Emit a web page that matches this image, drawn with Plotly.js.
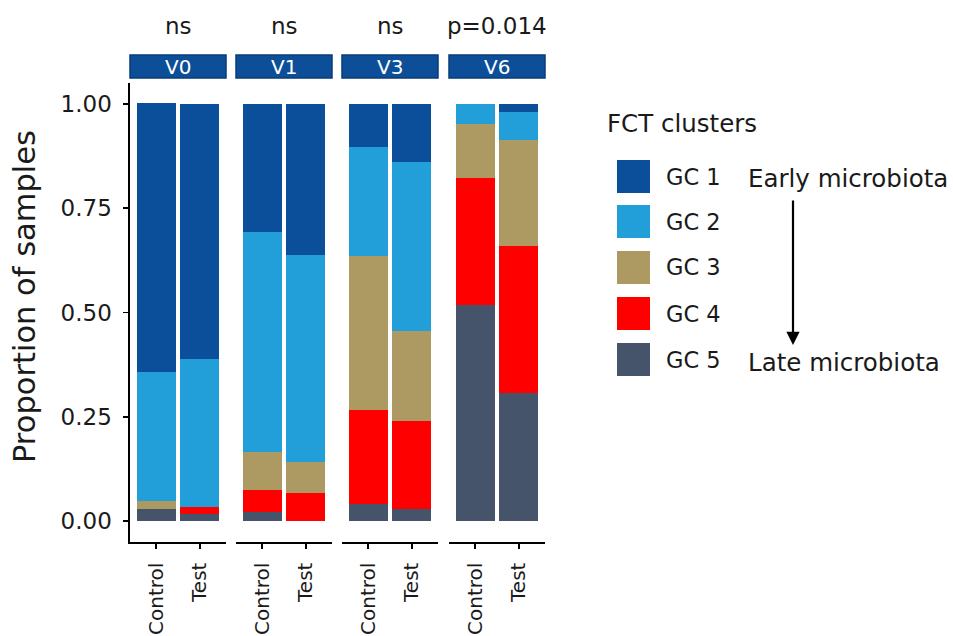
<!DOCTYPE html>
<html>
<head>
<meta charset="utf-8">
<script src="https://cdn.plot.ly/plotly-3.0.1.min.js"></script>
<style>html,body{margin:0;padding:0;background:#fff;}#chart{width:953px;height:636px;}</style>
</head>
<body>
<div id="chart"></div>
<script>
// ---- data ----
const visits = ["V0", "V1", "V3", "V6"];
const groups = ["Control", "Test"];
const pLabels = ["ns", "ns", "ns", "p=0.014"];
const clusters = ["GC 1", "GC 2", "GC 3", "GC 4", "GC 5"];
const clusterColors = ["#0B4F9B", "#229ED8", "#AD9A62", "#FF0000", "#45546B"];
// values ordered: V0 Control, V0 Test, V1 Control, V1 Test, V3 Control, V3 Test, V6 Control, V6 Test
const gc1 = [0.643, 0.612, 0.308, 0.363, 0.104, 0.139, 0.000, 0.019];
const gc2 = [0.310, 0.353, 0.527, 0.496, 0.261, 0.405, 0.048, 0.067];
const gc3 = [0.019, 0.000, 0.091, 0.074, 0.369, 0.216, 0.129, 0.254];
const gc4 = [0.000, 0.017, 0.053, 0.067, 0.225, 0.211, 0.305, 0.354];
const gc5 = [0.029, 0.018, 0.021, 0.000, 0.041, 0.029, 0.518, 0.306];
const legendTitle = "FCT clusters";
const earlyLabel = "Early microbiota";
const lateLabel = "Late microbiota";
const yTitle = "Proportion of samples";
const yTicks = [0, 0.25, 0.5, 0.75, 1];
const yTickText = ["0.00", "0.25", "0.50", "0.75", "1.00"];

// ---- layout helpers ----
const W = 953, H = 636;
const px = v => v / W;
const py = v => 1 - v / H;
const FONT = "DejaVu Sans";
const panelX = [[130, 226], [236, 332], [342, 438], [449, 545]];
const panelY = [83, 542];

const series = [gc1, gc2, gc3, gc4, gc5];
const traces = [];
// stack bottom-up: GC5 first
for (let p = 0; p < visits.length; p++) {
  for (let c = clusters.length - 1; c >= 0; c--) {
    traces.push({
      type: "bar",
      x: groups,
      y: [series[c][2 * p], series[c][2 * p + 1]],
      name: clusters[c],
      marker: {color: clusterColors[c], line: {width: 0}},
      xaxis: p === 0 ? "x" : "x" + (p + 1),
      yaxis: p === 0 ? "y" : "y" + (p + 1),
      showlegend: false,
      hoverinfo: "skip"
    });
  }
}

const layout = {
  width: W, height: H,
  margin: {l: 0, r: 0, t: 0, b: 0},
  paper_bgcolor: "#ffffff",
  plot_bgcolor: "rgba(0,0,0,0)",
  barmode: "stack",
  bargap: 0.1,
  showlegend: false,
  font: {family: FONT, color: "#1a1a1a"},
  shapes: [],
  annotations: []
};

for (let p = 0; p < visits.length; p++) {
  const xk = p === 0 ? "xaxis" : "xaxis" + (p + 1);
  const yk = p === 0 ? "yaxis" : "yaxis" + (p + 1);
  layout[xk] = {
    domain: [px(panelX[p][0]), px(panelX[p][1])],
    anchor: p === 0 ? "y" : "y" + (p + 1),
    type: "category",
    categoryorder: "array",
    categoryarray: groups,
    range: [-0.6, 1.6],
    showline: true, linecolor: "#000", linewidth: 1.6,
    ticks: "outside", ticklen: 5, tickwidth: 1.6, tickcolor: "#000",
    tickangle: -90,
    tickfont: {family: FONT, size: 20, color: "#1a1a1a"},
    ticklabelstandoff: 6,
    showgrid: false, zeroline: false, fixedrange: true
  };
  layout[yk] = {
    domain: [py(panelY[1]), py(panelY[0])],
    anchor: p === 0 ? "x" : "x" + (p + 1),
    range: [-0.05, 1.05],
    showgrid: false, zeroline: false, fixedrange: true,
    showline: p === 0, linecolor: "#000", linewidth: 1.6,
    ticks: p === 0 ? "outside" : "", ticklen: 5, tickwidth: 1.6, tickcolor: "#000",
    showticklabels: p === 0,
    tickmode: "array", tickvals: yTicks, ticktext: yTickText,
    tickfont: {family: FONT, size: 23, color: "#1a1a1a"},
    ticklabelstandoff: 7
  };
  // strip
  layout.shapes.push({
    type: "rect", xref: "paper", yref: "paper",
    x0: px(panelX[p][0]), x1: px(panelX[p][1]), y0: py(78), y1: py(55),
    fillcolor: "#0C4F98", line: {color: "#083C78", width: 1.5}
  });
  layout.annotations.push({
    xref: "paper", yref: "paper",
    x: px((panelX[p][0] + panelX[p][1]) / 2), y: py(67),
    text: visits[p], showarrow: false,
    font: {family: FONT, size: 20, color: "#ffffff"},
    xanchor: "center", yanchor: "middle"
  });
  layout.annotations.push({
    xref: "paper", yref: "paper",
    x: px((panelX[p][0] + panelX[p][1]) / 2), y: py(26),
    text: pLabels[p], showarrow: false,
    font: {family: FONT, size: 23, color: "#1a1a1a"},
    xanchor: "center", yanchor: "middle"
  });
}

// y title
layout.annotations.push({
  xref: "paper", yref: "paper", x: px(24), y: py(297),
  text: yTitle, textangle: -90, showarrow: false,
  font: {family: FONT, size: 30.5, color: "#1a1a1a"},
  xanchor: "center", yanchor: "middle"
});

// legend
layout.annotations.push({
  xref: "paper", yref: "paper", x: px(605), y: py(123),
  text: legendTitle, showarrow: false,
  font: {family: FONT, size: 24.5, color: "#1a1a1a"},
  xanchor: "left", yanchor: "middle"
});
const keyTop = [160, 205, 251, 297, 343];
for (let c = 0; c < clusters.length; c++) {
  layout.shapes.push({
    type: "rect", xref: "paper", yref: "paper",
    x0: px(617), x1: px(650), y0: py(keyTop[c] + 33), y1: py(keyTop[c]),
    fillcolor: clusterColors[c], line: {width: 0}
  });
  layout.annotations.push({
    xref: "paper", yref: "paper", x: px(664), y: py(keyTop[c] + 16.5),
    text: clusters[c], showarrow: false,
    font: {family: FONT, size: 22.5, color: "#1a1a1a"},
    xanchor: "left", yanchor: "middle"
  });
}
layout.annotations.push({
  xref: "paper", yref: "paper", x: px(746), y: py(178),
  text: earlyLabel, showarrow: false,
  font: {family: FONT, size: 24.5, color: "#1a1a1a"},
  xanchor: "left", yanchor: "middle"
});
layout.annotations.push({
  xref: "paper", yref: "paper", x: px(746), y: py(362),
  text: lateLabel, showarrow: false,
  font: {family: FONT, size: 24.5, color: "#1a1a1a"},
  xanchor: "left", yanchor: "middle"
});
// arrow
layout.annotations.push({
  xref: "paper", yref: "paper", x: px(793), y: py(345),
  ax: 0, ay: -146, text: "", showarrow: true,
  arrowhead: 2, arrowsize: 1.2, arrowwidth: 2.2, arrowcolor: "#000"
});

Plotly.newPlot("chart", traces, layout, {staticPlot: true, displayModeBar: false});
</script>
</body>
</html>
